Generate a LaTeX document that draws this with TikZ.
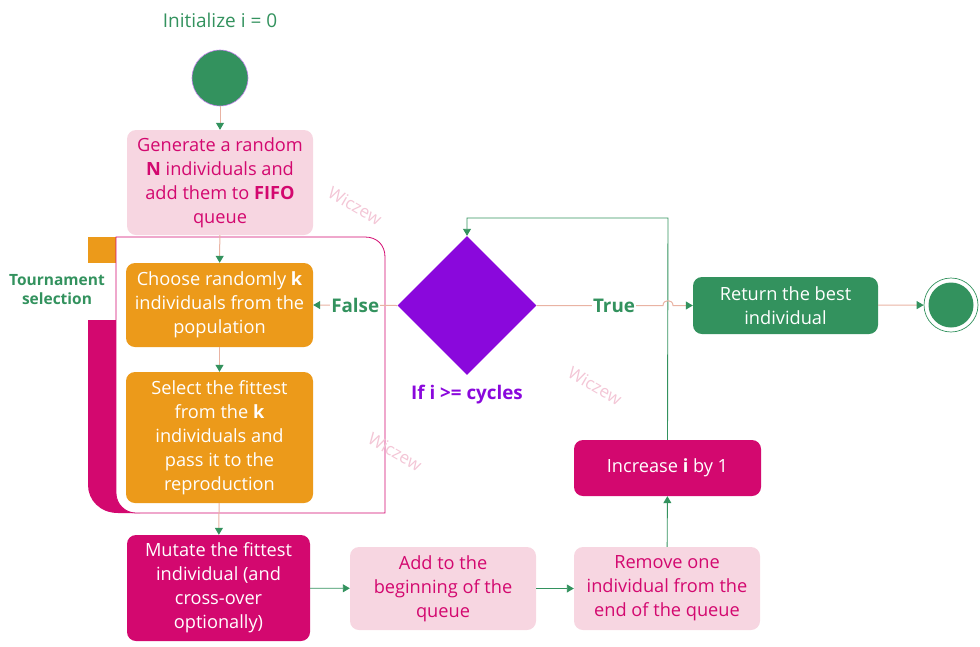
\documentclass[tikz,border=0pt]{standalone}
\usepackage{fontspec}
\setmainfont{Open Sans}
\usetikzlibrary{shapes.geometric,arrows.meta}
\definecolor{tpink}{HTML}{F7D6E1}
\definecolor{tmag}{HTML}{D3086F}
\definecolor{torange}{HTML}{EC9A1A}
\definecolor{tgreen}{HTML}{33925E}
\definecolor{tpurple}{HTML}{8A08DC}
\definecolor{tsalmon}{HTML}{E9B3A3}
\definecolor{twater}{HTML}{F3C6D6}
\tikzset{
  box/.style={rectangle, rounded corners=9pt, align=center, inner sep=2pt,
    font=\fontsize{18.2}{24}\selectfont},
  pinkbox/.style={box, fill=tpink, text=tmag},
  orangebox/.style={box, fill=torange, text=white},
  magbox/.style={box, fill=tmag, text=white},
  greenbox/.style={box, fill=tgreen, text=white},
  tip/.style={-{Triangle[length=7pt,width=8pt,color=tgreen]}},
  sline/.style={tip, draw=tsalmon, line width=1pt},
  gline/.style={tip, draw=tgreen, line width=0.9pt},
  lbl/.style={font=\fontsize{18.8}{22}\selectfont\bfseries, text=tgreen, fill=white, inner sep=1pt},
  wm/.style={font=\fontsize{17}{20}\selectfont, text=twater, rotate=-30},
}
\begin{document}
\begin{tikzpicture}[x=1pt,y=-1pt]
\useasboundingbox (0,0) rectangle (980,646);
% title
\node[font=\fontsize{19}{22}\selectfont, text=tgreen] (init) at (220,20) {Initialize i = 0};
% start
\node[circle, fill=tgreen, draw=tpurple!50, line width=0.6pt, minimum size=56pt, inner sep=0pt] (start) at (220,78) {};
% tournament frame
\fill[tmag] (88,320) -- (88,485) .. controls (88,500) and (100,513) .. (118,513) -- (140,513) -- (140,320) -- cycle;
\fill[torange] (88,237) rectangle (117,263);
\filldraw[fill=white, draw=tmag, line width=0.8pt] (116,237) -- (365,237) .. controls (377,237) and (385,245) .. (385,257) -- (385,513) -- (136,513) .. controls (125,513) and (116,504) .. (116,493) -- cycle;
\node[font=\fontsize{15.5}{19}\selectfont\bfseries, text=tgreen, align=center] (tour) at (57,290) {Tournament\\selection};
% boxes
\node[pinkbox, minimum width=186pt, minimum height=105pt] (gen) at (220,182.5) {Generate a random\\\textbf{N} individuals and\\add them to \textbf{FIFO}\\queue};
\node[orangebox, minimum width=187pt, minimum height=84pt] (choose) at (219.5,305) {Choose randomly \textbf{k}\\individuals from the\\population};
\node[orangebox, minimum width=187pt, minimum height=131pt] (select) at (219.5,437.5) {Select the fittest\\from the \textbf{k}\\individuals and\\pass it to the\\reproduction};
\node[magbox, minimum width=183pt, minimum height=106pt] (mutate) at (218.5,588) {Mutate the fittest\\individual (and\\cross-over\\optionally)};
\node[pinkbox, minimum width=186pt, minimum height=83pt] (add) at (443,588.5) {Add to the\\beginning of the\\queue};
\node[pinkbox, minimum width=186pt, minimum height=83pt] (remove) at (667,588.5) {Remove one\\individual from the\\end of the queue};
\node[magbox, minimum width=187pt, minimum height=56pt] (inc) at (667.5,468) {Increase \textbf{i} by 1};
\node[greenbox, minimum width=185pt, minimum height=57pt] (ret) at (785.5,305.5) {Return the best\\individual};
\node[diamond, fill=tpurple, minimum width=139pt, minimum height=139pt, inner sep=0pt] (dia) at (467,305.5) {};
\node[font=\fontsize{18.8}{22}\selectfont\bfseries, text=tpurple] (cond) at (467,395) {If i >= cycles};
% end
\node[circle, draw=tgreen, fill=white, line width=0.7pt, minimum size=54pt, inner sep=0pt] (endc) at (951,305) {};
\node[circle, fill=tgreen, minimum size=45pt, inner sep=0pt] (endin) at (951,305) {};
% watermarks
\node[wm] (w1) at (355,206) {Wiczew};
\node[wm] (w2) at (595,386) {Wiczew};
\node[wm] (w3) at (395,452) {Wiczew};
% connectors
\draw[sline] (start) -- (gen);
\draw[sline] (gen) -- (choose);
\draw[sline] (choose) -- (select);
\draw[sline] (select) -- (mutate);
\draw[gline] (mutate) -- (add);
\draw[gline] (add) -- (remove);
\draw[gline] (remove) -- (inc);
\coordinate (loopa) at (668,218);
\coordinate (loopb) at (467,218);
\draw[gline] (inc.north) -- (loopa) -- (loopb) -- (dia.north);
\draw[sline] (dia.west) -- node[lbl] (lf) {False} (choose.east);
\coordinate (hopa) at (663,305.5);
\coordinate (hopb) at (673,305.5);
\draw[sline] (dia.east) -- (hopa) .. controls (663,299) and (673,299) .. (hopb) -- (ret.west);
\node[lbl] (lt) at (614,305.5) {True};
\draw[sline] (ret) -- (endc);
\end{tikzpicture}
\end{document}
